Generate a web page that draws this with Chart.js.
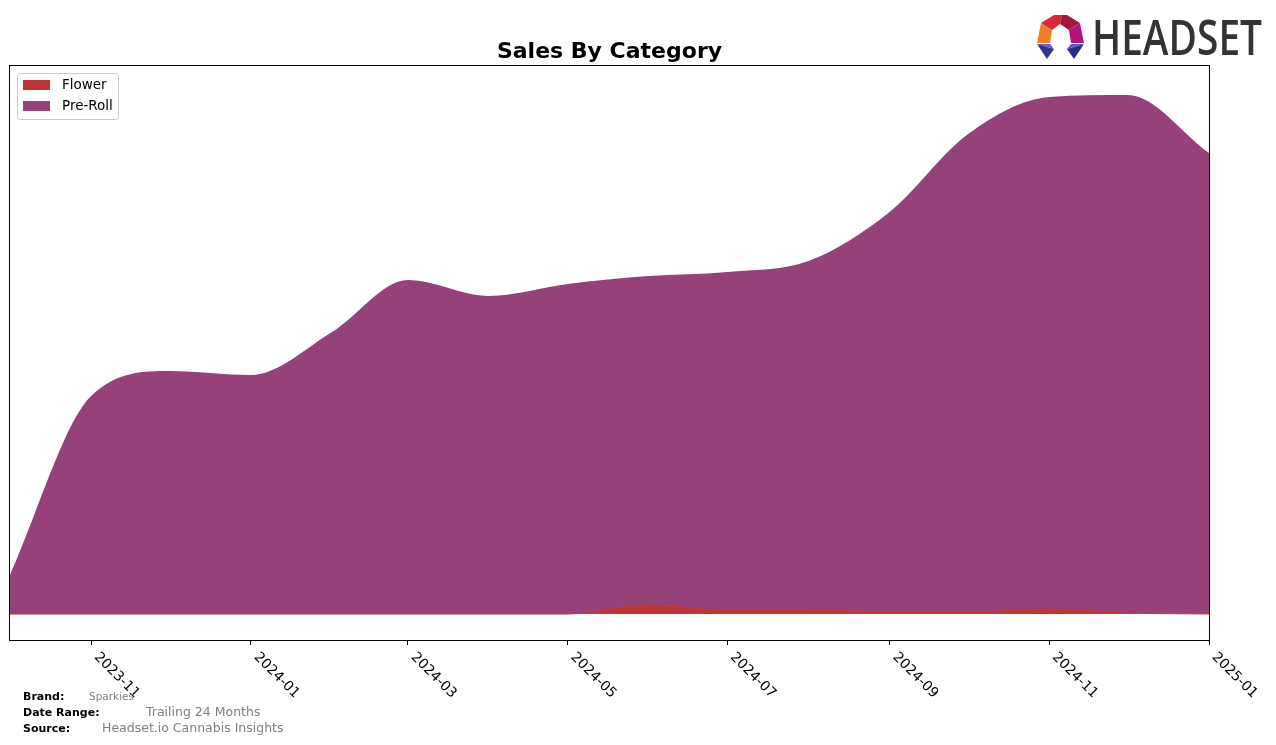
<!DOCTYPE html>
<html>
<head>
<meta charset="utf-8">
<script src="https://cdn.jsdelivr.net/npm/chart.js@4.4.1/dist/chart.umd.min.js"></script>
<style>
  html, body { margin: 0; padding: 0; background: #fff; }
  canvas { display: block; }
</style>
</head>
<body>
<canvas id="chartCanvas" width="1276" height="745"></canvas>
<script>
// monthly data (arbitrary units)
const months = ['2023-10', '2023-11', '2023-12', '2024-01', '2024-02', '2024-03', '2024-04', '2024-05',
  '2024-06', '2024-07', '2024-08', '2024-09', '2024-10', '2024-11', '2024-12', '2025-01'];
const flower = [0, 0, 0, 0, 0, 0, 0, 0, 9, 4, 4, 2, 2, 5, 1, 0];
const preRoll = [39, 218, 243, 239, 282, 334, 318, 330, 329, 338, 349, 400, 478, 512, 518, 461];
const tickLabels = ['2023-11', '2024-01', '2024-03', '2024-05', '2024-07', '2024-09', '2024-11', '2025-01'];

const brand = 'Sparkies';
const dateRange = 'Trailing 24 Months';
const source = 'Headset.io Cannabis Insights';

const start = new Date(months[0] + '-01T00:00:00Z');
function dayOf(m) {
  return (new Date(m + '-01T00:00:00Z') - start) / 86400000;
}
const xs = months.map(dayOf);
const tickDays = tickLabels.map(dayOf);

const FONT = '"DejaVu Sans", sans-serif';

function poly(ctx, pts, col) {
  ctx.fillStyle = col;
  ctx.beginPath();
  pts.forEach((p, k) => k ? ctx.lineTo(p[0], p[1]) : ctx.moveTo(p[0], p[1]));
  ctx.closePath();
  ctx.fill();
}

function drawLogo(ctx) {
  // hexagon-ish ring
  poly(ctx, [[1041, 23], [1054, 15], [1062, 15], [1060, 24], [1052, 30]], '#d8283a');
  poly(ctx, [[1062, 15], [1067, 15], [1080, 23], [1069, 30], [1060, 24]], '#a3173f');
  poly(ctx, [[1041, 23], [1052, 30], [1050, 43], [1037, 43]], '#f07f26');
  poly(ctx, [[1080, 23], [1084, 43], [1071, 43], [1069, 30]], '#b3147c');
  poly(ctx, [[1037, 44], [1050, 44], [1054, 49]], '#6262d2');
  poly(ctx, [[1037, 44], [1054, 49], [1047, 59]], '#33348e');
  poly(ctx, [[1071, 44], [1084, 44], [1067, 49]], '#5a5ac8');
  poly(ctx, [[1084, 44], [1074, 59], [1067, 49]], '#2c2d84');

  ctx.fillStyle = '#333';
  ctx.font = '600 49px "Open Sans", sans-serif';
  ctx.textBaseline = 'alphabetic';
  ctx.textAlign = 'left';
  const w = ctx.measureText('HEADSET').width;
  ctx.save();
  ctx.translate(1092, 55);
  ctx.scale(170 / w, 1);
  ctx.fillText('HEADSET', 0, 0);
  ctx.restore();
}

const decor = {
  id: 'decor',
  beforeDraw(chart) {
    const ctx = chart.ctx;
    ctx.save();
    ctx.fillStyle = '#fff';
    ctx.fillRect(0, 0, chart.width, chart.height);
    ctx.restore();
  },
  afterDraw(chart) {
    const ctx = chart.ctx;
    const a = chart.chartArea;
    const xScale = chart.scales.x;
    ctx.save();

    // frame
    ctx.strokeStyle = '#000';
    ctx.lineWidth = 1;
    ctx.strokeRect(Math.round(a.left) - 0.5, Math.round(a.top) - 0.5,
      Math.round(a.right - a.left) + 1, Math.round(a.bottom - a.top) + 1);

    // title
    ctx.fillStyle = '#000';
    ctx.font = 'bold 22px ' + FONT;
    ctx.textAlign = 'center';
    ctx.textBaseline = 'alphabetic';
    ctx.fillText('Sales By Category', (a.left + a.right) / 2, 58);

    // rotated tick labels
    ctx.font = '13.9px ' + FONT;
    ctx.textAlign = 'left';
    ctx.textBaseline = 'top';
    tickLabels.forEach((lab, i) => {
      const px = xScale.getPixelForValue(tickDays[i]);
      ctx.save();
      ctx.translate(px + 10, a.bottom + 10);
      ctx.rotate(Math.PI / 4);
      ctx.fillText(lab, 0, 0);
      ctx.restore();
    });

    // legend
    const lx = 17, ly = 73;
    ctx.fillStyle = 'rgba(255,255,255,0.8)';
    ctx.strokeStyle = '#ccc';
    ctx.lineWidth = 1;
    ctx.beginPath();
    ctx.roundRect(lx + 0.5, ly + 0.5, 101, 46, 3);
    ctx.fill();
    ctx.stroke();
    ctx.font = '13.5px ' + FONT;
    ctx.textBaseline = 'middle';
    chart.data.datasets.forEach((ds, i) => {
      const cy = ly + 12 + i * 21;
      ctx.fillStyle = ds.backgroundColor;
      ctx.fillRect(lx + 6, cy - 5, 27, 10);
      ctx.fillStyle = '#000';
      ctx.fillText(ds.label, lx + 45, cy);
    });

    // footer
    ctx.textBaseline = 'middle';
    ctx.font = 'bold 11px ' + FONT;
    ctx.fillStyle = '#000';
    ctx.fillText('Brand:', 23, 697);
    ctx.fillText('Date Range:', 23, 713);
    ctx.fillText('Source:', 23, 729);
    ctx.fillStyle = '#808080';
    ctx.font = '10.5px ' + FONT;
    ctx.fillText(brand, 89, 697);
    ctx.font = '12.5px ' + FONT;
    ctx.fillText(dateRange, 146, 713);
    ctx.fillText(source, 102, 729);

    drawLogo(ctx);
    ctx.restore();
  }
};

const ctx = document.getElementById('chartCanvas').getContext('2d');
const chart = new Chart(ctx, {
  type: 'line',
  data: {
    datasets: [{
      label: 'Flower',
      data: xs.map((x, i) => ({ x: x, y: flower[i] })),
      backgroundColor: '#c13434',
      borderColor: '#c13434',
      borderWidth: 1,
      fill: 'origin',
      pointRadius: 0,
      cubicInterpolationMode: 'monotone'
    }, {
      label: 'Pre-Roll',
      data: xs.map((x, i) => ({ x: x, y: preRoll[i] })),
      backgroundColor: '#964179',
      borderColor: '#964179',
      borderWidth: 0,
      fill: '-1',
      pointRadius: 0,
      cubicInterpolationMode: 'monotone'
    }]
  },
  options: {
    responsive: false,
    animation: false,
    layout: { padding: { left: 10, right: 67, top: 66, bottom: 0 } },
    plugins: {
      legend: { display: false },
      title: { display: false },
      tooltip: { enabled: false }
    },
    scales: {
      x: {
        type: 'linear',
        min: 0,
        max: tickDays[tickDays.length - 1],
        afterBuildTicks: (scale) => {
          scale.ticks = tickDays.map(v => ({ value: v }));
        },
        afterFit: (scale) => { scale.height = 105; },
        ticks: { display: false },
        grid: {
          drawOnChartArea: false,
          drawTicks: true,
          tickLength: 5,
          color: '#000'
        },
        border: { display: true, color: '#000' }
      },
      y: {
        display: false,
        stacked: true,
        min: -26,
        max: 548
      }
    }
  },
  plugins: [decor]
});
</script>
</body>
</html>
